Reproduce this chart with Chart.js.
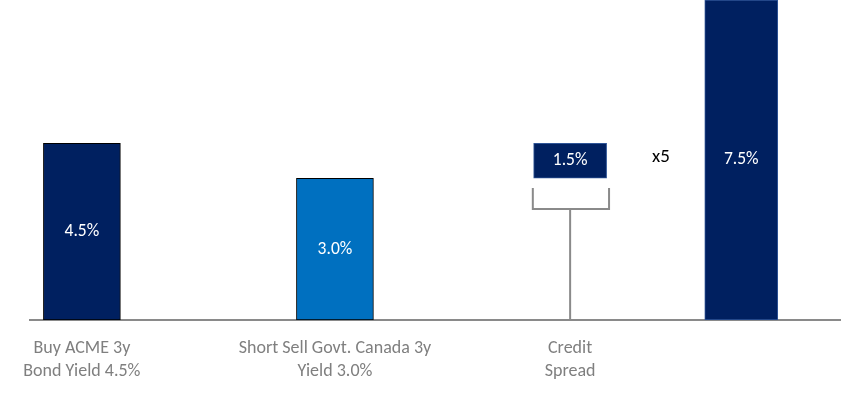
<!DOCTYPE html>
<html>
<head>
<meta charset="utf-8">
<script src="https://cdn.jsdelivr.net/npm/chart.js@4"></script>
<style>
  body { margin: 0; background: #fff; }
  #wrap { width: 841px; height: 395px; position: relative; }
</style>
</head>
<body>
<div id="wrap"><canvas id="myChart"></canvas></div>
<script>
// categories (x position on the axis, label lines)
var categoryPos = [0.64, 3.76, 6.66, 8.77];
var categoryLabels = [
    ['Buy ACME 3y', 'Bond Yield 4.5%'],
    ['Short Sell Govt. Canada 3y', 'Yield 3.0%'],
    ['Credit', 'Spread'],
    ''
];
// drawn bar heights (the chart is not to scale)
var yieldHeights = [4.5, 3.61];
var spreadBox = [3.61, 4.5];
var leveredHeight = 8.15;
// text printed on the bars
var barText = ['4.5%', '3.0%', '1.5%', '7.5%'];
// bracket under the spread box
var bracketPoints = [{x: 6.20, y: 3.36}, {x: 6.20, y: 2.83}, {x: 7.14, y: 2.83}, {x: 7.14, y: 3.36}];
var stemPoints = [{x: 6.66, y: 2.83}, {x: 6.66, y: 0}];
var multiplierText = 'x5';
var multiplierPos = {x: 7.78, y: 4.15};

var barLabelPlugin = {
    id: 'barLabels',
    afterDatasetsDraw: function (chart) {
        var ctx = chart.ctx;
        ctx.save();
        ctx.font = '17.5px Carlito, Calibri, Lato, sans-serif';
        ctx.fillStyle = '#ffffff';
        ctx.textAlign = 'center';
        ctx.textBaseline = 'middle';
        var k = 0;
        [0, 1].forEach(function (di) {
            chart.getDatasetMeta(di).data.forEach(function (el) {
                ctx.fillText(barText[k], el.x, (el.y + el.base) / 2);
                k++;
            });
        });
        // multiplier annotation
        ctx.fillStyle = '#000000';
        ctx.font = '19px Carlito, Calibri, Lato, sans-serif';
        ctx.fillText(multiplierText,
            chart.scales.x.getPixelForValue(multiplierPos.x),
            chart.scales.y.getPixelForValue(multiplierPos.y));
        ctx.restore();
    }
};

var ctx = document.getElementById('myChart').getContext('2d');
new Chart(ctx, {
    type: 'bar',
    data: {
        datasets: [{
            data: [
                {x: categoryPos[0], y: yieldHeights[0]},
                {x: categoryPos[1], y: yieldHeights[1]}
            ],
            backgroundColor: ['#002060', '#0070C0'],
            borderColor: '#000000',
            borderWidth: 1,
            borderSkipped: false,
            barThickness: 77,
            grouped: false,
            order: 2
        }, {
            data: [
                {x: categoryPos[2], y: spreadBox},
                {x: categoryPos[3], y: leveredHeight}
            ],
            backgroundColor: '#002060',
            borderColor: '#2F5597',
            borderWidth: 1,
            borderSkipped: false,
            barThickness: 73,
            grouped: false,
            order: 2
        }, {
            type: 'line',
            data: bracketPoints,
            borderColor: '#8a8a8a',
            borderWidth: 2,
            pointRadius: 0,
            tension: 0,
            fill: false,
            order: 1
        }, {
            type: 'line',
            data: stemPoints,
            borderColor: '#8a8a8a',
            borderWidth: 2,
            pointRadius: 0,
            tension: 0,
            fill: false,
            order: 1
        }]
    },
    options: {
        responsive: true,
        maintainAspectRatio: false,
        animation: false,
        layout: { padding: { left: 30, right: 0, top: 0, bottom: 0 } },
        plugins: {
            legend: { display: false },
            tooltip: { enabled: false }
        },
        scales: {
            x: {
                type: 'linear',
                min: 0,
                max: 10,
                offset: false,
                grid: { display: false, drawTicks: false },
                border: { display: true, color: '#8a8a8a', width: 2 },
                afterBuildTicks: function (axis) {
                    axis.ticks = categoryPos.map(function (v) { return {value: v}; });
                },
                afterFit: function (axis) { axis.height = 75; },
                ticks: {
                    autoSkip: false,
                    maxRotation: 0,
                    padding: 17,
                    color: '#7f7f7f',
                    font: { family: 'Carlito, Calibri, Lato, sans-serif', size: 18, lineHeight: '23px' },
                    callback: function (value, index) { return categoryLabels[index]; }
                }
            },
            y: {
                display: false,
                min: 0,
                max: 8.15
            }
        }
    },
    plugins: [barLabelPlugin]
});
</script>
</body>
</html>
